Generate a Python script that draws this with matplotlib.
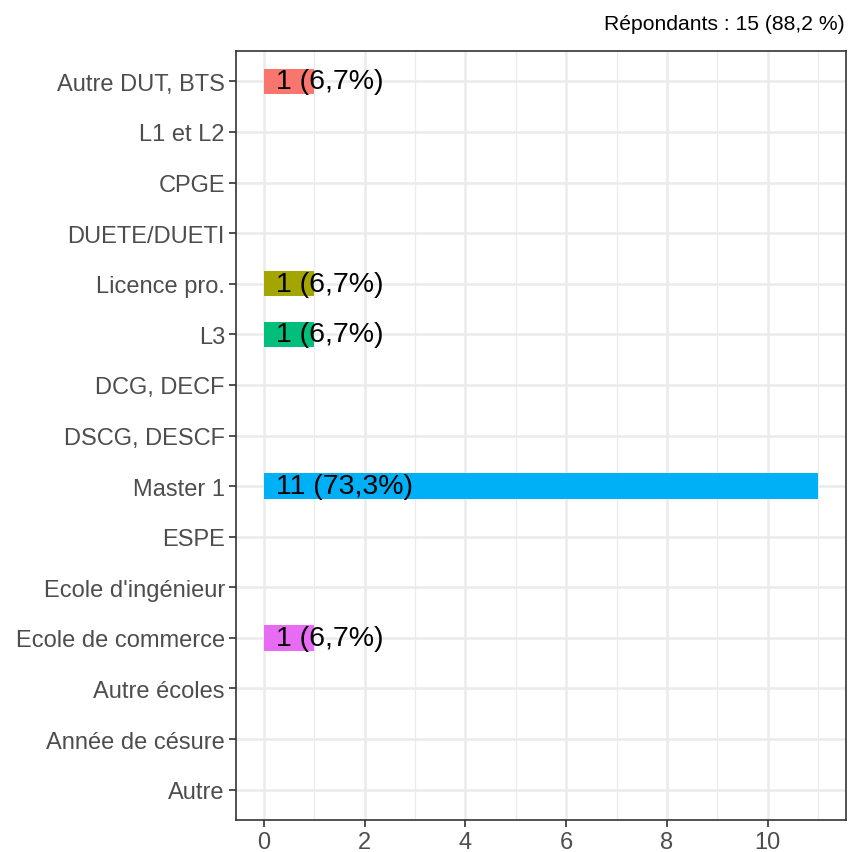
import matplotlib.pyplot as plt
import numpy as np

plt.rcParams['font.family'] = ['Liberation Sans', 'DejaVu Sans']

categories = ['Autre DUT, BTS', 'L1 et L2', 'CPGE', 'DUETE/DUETI', 'Licence pro.',
              'L3', 'DCG, DECF', 'DSCG, DESCF', 'Master 1', 'ESPE',
              "Ecole d'ingénieur", 'Ecole de commerce', 'Autre écoles',
              'Année de césure', 'Autre']
counts = [1, 0, 0, 0, 1, 1, 0, 0, 11, 0, 0, 1, 0, 0, 0]
labels = ['1 (6,7%)', '', '', '', '1 (6,7%)', '1 (6,7%)', '', '', '11 (73,3%)',
          '', '', '1 (6,7%)', '', '', '']
colors = ['#F8766D', None, None, None, '#A3A500', '#00BF7D', None, None, '#00B0F6',
          None, None, '#E76BF3', None, None, None]
subtitle = 'Répondants : 15 (88,2 %)'

W, H = 849, 853
fig = plt.figure(figsize=(W / 100, H / 100), dpi=100)
ax = fig.add_axes([236 / W, 32 / H, (846 - 236) / W, (821 - 52) / H])

n = len(categories)
ypos = np.arange(n)
for i in range(n):
    if counts[i] > 0:
        ax.barh(ypos[i], counts[i], height=0.5, color=colors[i], zorder=2)
        ax.text(0.24, ypos[i], labels[i], ha='left', va='center', fontsize=20.5,
                color='black', zorder=3)

xmax = max(counts)
ax.set_xlim(-0.05 * xmax, xmax * 1.05)
ax.set_ylim(n - 1 + 0.6, -0.6)
ax.set_yticks(ypos)
ax.set_yticklabels(categories)
ax.set_xticks(np.arange(0, 11, 2))
ax.set_xticks(np.arange(1, 12, 2), minor=True)
ax.grid(True, which='major', color='#EBEBEB', linewidth=1.8, zorder=0)
ax.grid(True, which='minor', axis='x', color='#EBEBEB', linewidth=0.9, zorder=0)
ax.set_axisbelow(True)
ax.tick_params(axis='both', which='major', labelsize=17, labelcolor='#4D4D4D',
               color='#333333', length=5, width=1.2, pad=3)
ax.tick_params(axis='x', which='minor', length=0)
for s in ax.spines.values():
    s.set_color('#333333')
    s.set_linewidth(1.2)

fig.text(845 / W, 1 - 24 / H, subtitle, ha='right', va='center', fontsize=15.2,
         color='black')

fig.savefig('out.png', dpi=100)
